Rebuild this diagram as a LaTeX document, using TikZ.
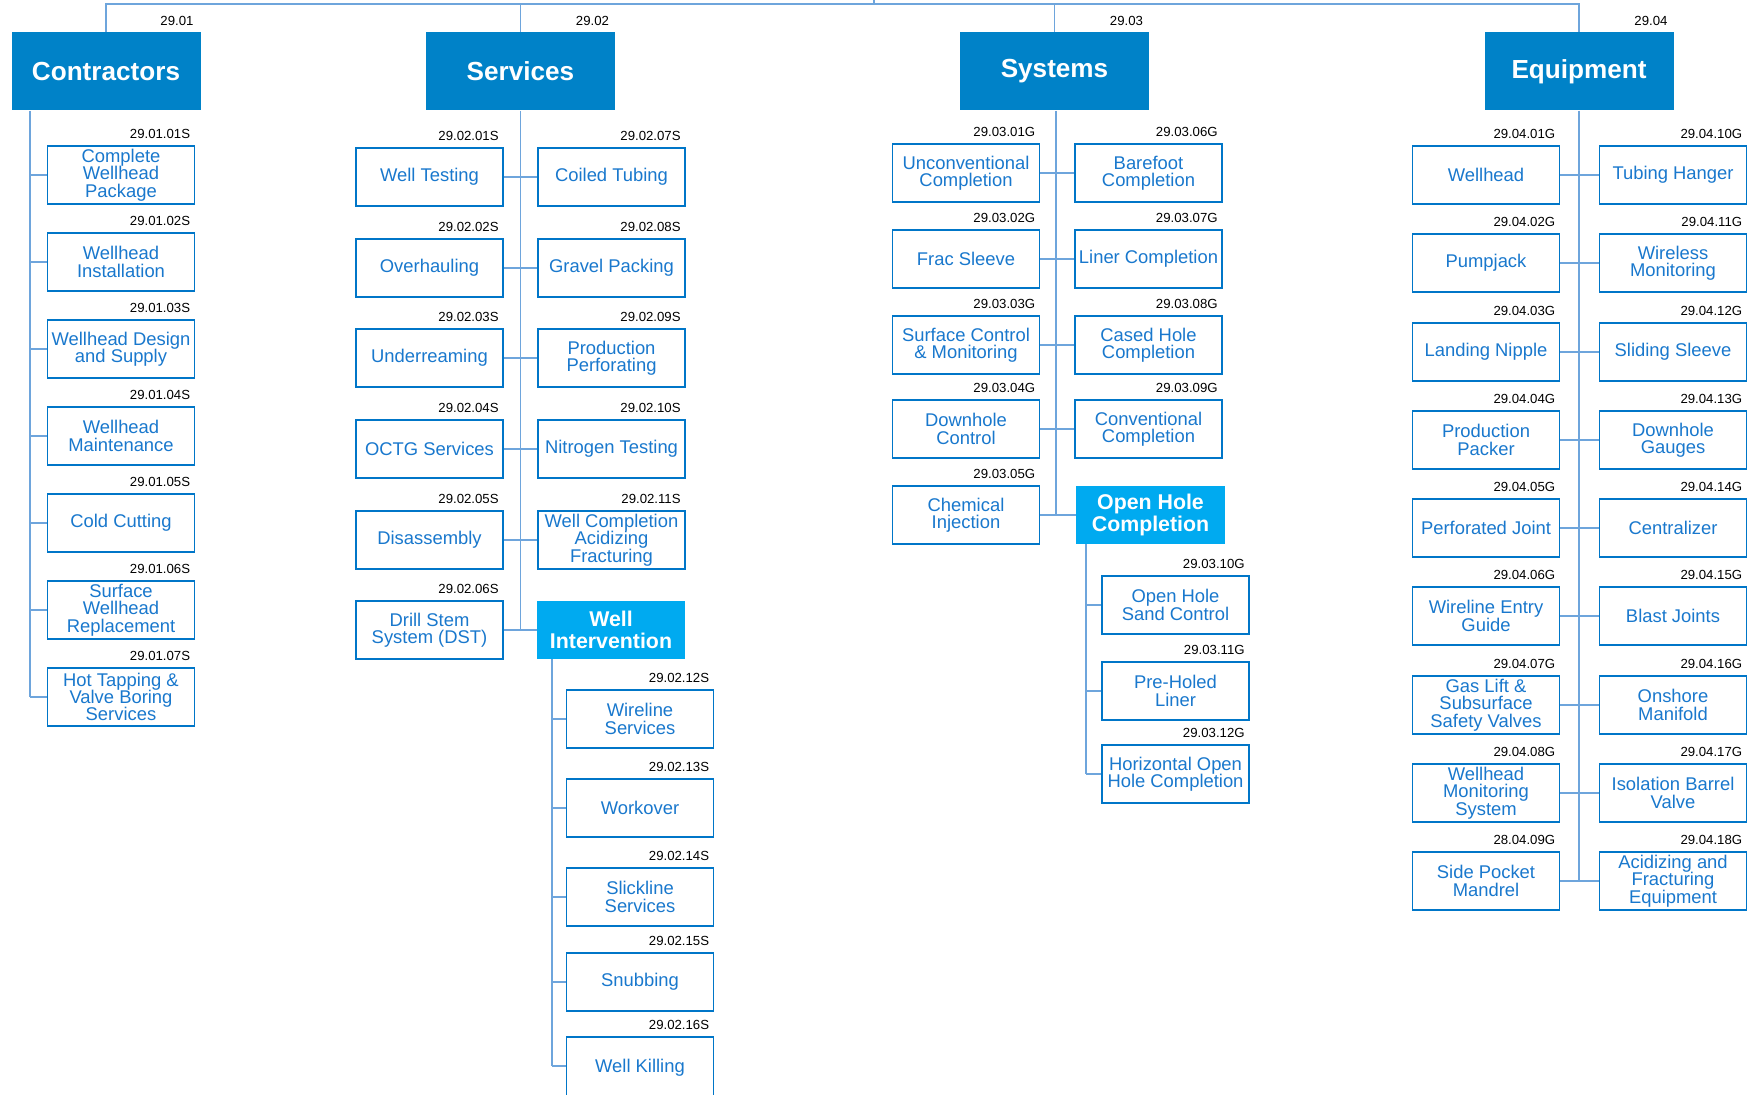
\documentclass[tikz,border=0pt]{standalone}
\usepackage{fontspec}
\setmainfont{Liberation Sans}
\usetikzlibrary{calc}
\definecolor{darkbox}{RGB}{0,130,200}
\definecolor{lightbox}{RGB}{0,170,240}
\definecolor{boxline}{RGB}{0,118,200}
\definecolor{boxtext}{RGB}{25,120,205}
\definecolor{conn}{RGB}{110,165,220}
\tikzset{
  topbox/.style={fill=darkbox, draw=none, text=white, minimum width=141.75pt, minimum height=58.5pt,
    inner sep=0pt, font=\fontsize{19.6}{21}\selectfont\bfseries, align=center},
  childbox/.style={draw=boxline, line width=1.1pt, fill=white, text=boxtext, minimum width=110.5pt,
    minimum height=43.5pt, inner sep=0pt, font=\fontsize{13.8}{13}\selectfont, align=center},
  lightnode/.style={fill=lightbox, draw=none, text=white, minimum width=111pt, minimum height=43.5pt,
    inner sep=0pt, font=\fontsize{16}{16.5}\selectfont\bfseries, align=center},
  code/.style={anchor=east, inner sep=0pt, text=black, font=\fontsize{9.9}{11}\selectfont},
  link/.style={draw=conn, line width=1.3pt},
}
\newcommand{\cbox}[4]{%
  \node[childbox] (#1) at (#2) {#3};
  \node[code] (#1l) at ($(#1.north east)+(-5,-11)$) {#4};}
\begin{document}
\begin{tikzpicture}[x=0.75pt,y=-0.75pt]
\clip (0,0) rectangle (1749,1095);
\fill[white] (0,0) rectangle (1749,1095);

% ---------- top level ----------
\node[topbox] (C) at (106,71.5) {Contractors};
\node[topbox] (S) at (520.5,71.5) {Services};
\node[topbox] (Y) at (1054.5,71.5) {Systems};
\node[topbox] (E) at (1579,71.5) {Equipment};
\node[code] (Cl) at ($(C.north east)+(-7,-11)$) {29.01};
\node[code] (Sl) at ($(S.north east)+(-6,-11)$) {29.02};
\node[code] (Yl) at ($(Y.north east)+(-6,-11)$) {29.03};
\node[code] (El) at ($(E.north east)+(-6,-11)$) {29.04};

\coordinate (bar) at (0,4);
\coordinate (topmid) at (874,0);
\draw[link] (C.north) -- (C.north |- bar) -- (E.north |- bar) -- (E.north);
\draw[link] (S.north) -- (S.north |- bar);
\draw[link] (Y.north) -- (Y.north |- bar);
\draw[link] (topmid) -- (topmid |- bar);

% ---------- Contractors ----------
\cbox{c1}{121,175}{Complete\\Wellhead\\Package}{29.01.01S}
\cbox{c2}{121,262}{Wellhead\\Installation}{29.01.02S}
\cbox{c3}{121,349}{Wellhead Design\\and Supply}{29.01.03S}
\cbox{c4}{121,436}{Wellhead\\Maintenance}{29.01.04S}
\cbox{c5}{121,523}{Cold Cutting}{29.01.05S}
\cbox{c6}{121,610}{Surface\\Wellhead\\Replacement}{29.01.06S}
\cbox{c7}{121,697}{Hot Tapping \&\\Valve Boring\\Services}{29.01.07S}
\coordinate (ctrunk) at (30,0);
\draw[link] (ctrunk |- C.south) -- (ctrunk |- c7.west);
\foreach \n in {c1,c2,c3,c4,c5,c6,c7}{\draw[link] (ctrunk |- \n.west) -- (\n.west);}

% ---------- Services ----------
\cbox{s1}{429.5,177}{Well Testing}{29.02.01S}
\cbox{s2}{429.5,268}{Overhauling}{29.02.02S}
\cbox{s3}{429.5,358}{Underreaming}{29.02.03S}
\cbox{s4}{429.5,449}{OCTG Services}{29.02.04S}
\cbox{s5}{429.5,540}{Disassembly}{29.02.05S}
\cbox{s6}{429.5,630}{Drill Stem\\System (DST)}{29.02.06S}
\cbox{s7}{611.5,177}{Coiled Tubing}{29.02.07S}
\cbox{s8}{611.5,268}{Gravel Packing}{29.02.08S}
\cbox{s9}{611.5,358}{Production\\Perforating}{29.02.09S}
\cbox{s10}{611.5,449}{Nitrogen Testing}{29.02.10S}
\cbox{s11}{611.5,540}{Well Completion\\Acidizing\\Fracturing}{29.02.11S}
\node[lightnode] (wi) at (611,630) {Well\\Intervention};
\draw[link] (S.south) -- (S.south |- wi.west);
\draw[link] (s1.east) -- (s7.west);
\draw[link] (s2.east) -- (s8.west);
\draw[link] (s3.east) -- (s9.west);
\draw[link] (s4.east) -- (s10.west);
\draw[link] (s5.east) -- (s11.west);
\draw[link] (s6.east) -- (wi.west);

\cbox{w1}{640,719}{Wireline\\Services}{29.02.12S}
\cbox{w2}{640,808}{Workover}{29.02.13S}
\cbox{w3}{640,897}{Slickline\\Services}{29.02.14S}
\cbox{w4}{640,982}{Snubbing}{29.02.15S}
\node[childbox, minimum height=46.5pt] (w5) at (640,1068) {Well Killing};
\node[code] (w5l) at ($(w5.north east)+(-5,-11)$) {29.02.16S};
\coordinate (wtrunk) at (552,0);
\draw[link] (wtrunk |- wi.south) -- (wtrunk |- w4.west) -- (wtrunk |- 0,1066);
\foreach \n in {w1,w2,w3,w4}{\draw[link] (wtrunk |- \n.west) -- (\n.west);}
\draw[link] (wtrunk |- 0,1066) -- (w5.west |- 0,1066);

% ---------- Systems ----------
\cbox{y1}{966,173}{Unconventional\\Completion}{29.03.01G}
\cbox{y2}{966,259}{Frac Sleeve}{29.03.02G}
\cbox{y3}{966,345}{Surface Control\\\& Monitoring}{29.03.03G}
\cbox{y4}{966,429}{Downhole\\Control}{29.03.04G}
\cbox{y5}{966,515}{Chemical\\Injection}{29.03.05G}
\cbox{y6}{1148.5,173}{Barefoot\\Completion}{29.03.06G}
\cbox{y7}{1148.5,259}{Liner Completion}{29.03.07G}
\cbox{y8}{1148.5,345}{Cased Hole\\Completion}{29.03.08G}
\cbox{y9}{1148.5,429}{Conventional\\Completion}{29.03.09G}
\node[lightnode, minimum width=111.75pt] (oh) at (1150.5,515) {Open Hole\\Completion};
\coordinate (ytrunk) at (1056,0);
\draw[link] (ytrunk |- Y.south) -- (ytrunk |- oh.west);
\draw[link] (y1.east) -- (y6.west);
\draw[link] (y2.east) -- (y7.west);
\draw[link] (y3.east) -- (y8.west);
\draw[link] (y4.east) -- (y9.west);
\draw[link] (y5.east) -- (oh.west);

\cbox{o1}{1175.5,605}{Open Hole\\Sand Control}{29.03.10G}
\cbox{o2}{1175.5,691}{Pre-Holed\\Liner}{29.03.11G}
\cbox{o3}{1175.5,774}{Horizontal Open\\Hole Completion}{29.03.12G}
\coordinate (otrunk) at (1086,0);
\draw[link] (otrunk |- oh.south) -- (otrunk |- o3.west);
\foreach \n in {o1,o2,o3}{\draw[link] (otrunk |- \n.west) -- (\n.west);}

% ---------- Equipment ----------
\cbox{e1}{1486,175}{Wellhead}{29.04.01G}
\cbox{e2}{1486,263}{Pumpjack}{29.04.02G}
\cbox{e3}{1486,352}{Landing Nipple}{29.04.03G}
\cbox{e4}{1486,440}{Production\\Packer}{29.04.04G}
\cbox{e5}{1486,528}{Perforated Joint}{29.04.05G}
\cbox{e6}{1486,616}{Wireline Entry\\Guide}{29.04.06G}
\cbox{e7}{1486,705}{Gas Lift \&\\Subsurface\\Safety Valves}{29.04.07G}
\cbox{e8}{1486,793}{Wellhead\\Monitoring\\System}{29.04.08G}
\cbox{e9}{1486,881}{Side Pocket\\Mandrel}{28.04.09G}
\cbox{e10}{1673,175}{Tubing Hanger}{29.04.10G}
\cbox{e11}{1673,263}{Wireless\\Monitoring}{29.04.11G}
\cbox{e12}{1673,352}{Sliding Sleeve}{29.04.12G}
\cbox{e13}{1673,440}{Downhole\\Gauges}{29.04.13G}
\cbox{e14}{1673,528}{Centralizer}{29.04.14G}
\cbox{e15}{1673,616}{Blast Joints}{29.04.15G}
\cbox{e16}{1673,705}{Onshore\\Manifold}{29.04.16G}
\cbox{e17}{1673,793}{Isolation Barrel\\Valve}{29.04.17G}
\cbox{e18}{1673,881}{Acidizing and\\Fracturing\\Equipment}{29.04.18G}
\draw[link] (E.south) -- (E.south |- e9.east);
\draw[link] (e1.east) -- (e10.west);
\draw[link] (e2.east) -- (e11.west);
\draw[link] (e3.east) -- (e12.west);
\draw[link] (e4.east) -- (e13.west);
\draw[link] (e5.east) -- (e14.west);
\draw[link] (e6.east) -- (e15.west);
\draw[link] (e7.east) -- (e16.west);
\draw[link] (e8.east) -- (e17.west);
\draw[link] (e9.east) -- (e18.west);
\end{tikzpicture}
\end{document}
